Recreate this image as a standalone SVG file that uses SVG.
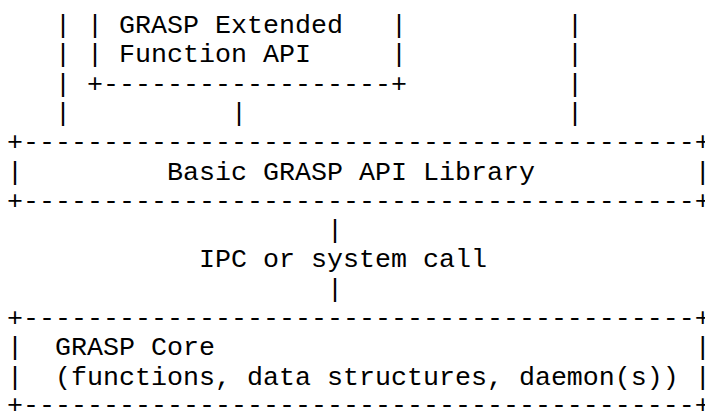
<svg xmlns="http://www.w3.org/2000/svg" width="705" height="412" viewBox="0 0 705 412">
<style>
.t { font-family: "Courier New", "Nimbus Mono PS", "Liberation Mono", monospace; font-size: 26.667px; fill: #000; white-space: pre; }
</style>
<rect width="705" height="412" fill="#fff"/>
<g id="connectors">
  <text class="t" x="55" y="33">|</text>
  <text class="t" x="55" y="62.3">|</text>
  <text class="t" x="55" y="91.6">|</text>
  <text class="t" x="55" y="120.9">|</text>
  <text class="t" x="567" y="33">|</text>
  <text class="t" x="567" y="62.3">|</text>
  <text class="t" x="567" y="91.6">|</text>
  <text class="t" x="567" y="120.9">|</text>
  <text class="t" x="231" y="120.9">|</text>
  <text class="t" x="327" y="238.1">|</text>
  <text class="t" x="199" y="267.4">IPC or system call</text>
  <text class="t" x="327" y="296.7">|</text>
</g>
<g id="extended-api">
  <text class="t" x="87" y="33">| GRASP Extended   |</text>
  <text class="t" x="87" y="62.3">| Function API     |</text>
  <text class="t" x="87" y="91.6">+------------------+</text>
</g>
<g id="basic-api">
  <text class="t" x="7" y="150.2">+------------------------------------------+</text>
  <text class="t" x="7" y="179.5">|         Basic GRASP API Library          |</text>
  <text class="t" x="7" y="208.8">+------------------------------------------+</text>
</g>
<g id="core">
  <text class="t" x="7" y="326">+------------------------------------------+</text>
  <text class="t" x="7" y="355.3">|  GRASP Core                              |</text>
  <text class="t" x="7" y="384.6">|  (functions, data structures, daemon(s)) |</text>
  <text class="t" x="7" y="413.4">+------------------------------------------+</text>
</g>
</svg>
